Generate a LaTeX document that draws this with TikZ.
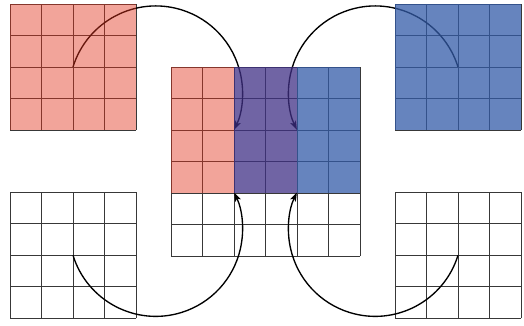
\documentclass[tikz,border=0pt]{standalone}
\usetikzlibrary{arrows.meta}
\definecolor{redbase}{RGB}{227,53,31}
\definecolor{bluebase}{RGB}{51,91,168}
\definecolor{purplebase}{RGB}{64,48,133}
\newcommand\drawcells[4]{%
  \foreach \i in {0,...,#3} \draw[gridline] (#1+\i*31.5,#2) -- ++(0,#4*31.5);
  \foreach \j in {0,...,#4} \draw[gridline] (#1,#2+\j*31.5) -- ++(#3*31.5,0);
}
\tikzset{
  gridline/.style={draw=black!78,line width=0.7pt},
  movearrow/.style={line width=1.35pt,-{Stealth[length=9pt,width=6pt,inset=2pt]}},
  redfill/.style={fill=redbase,fill opacity=0.45},
  bluefill/.style={fill=bluebase,fill opacity=0.75},
  purplefill/.style={fill=purplebase,fill opacity=0.75},
}
\begin{document}
\begin{tikzpicture}[x=1pt,y=1pt]
\useasboundingbox (0,0) rectangle (524,325);
% grids
\drawcells{10}{195}{4}{4}
\drawcells{395}{195}{4}{4}
\drawcells{171}{69}{6}{6}
\drawcells{10}{6.7}{4}{4}
\drawcells{395}{6.7}{4}{4}
% named points
\coordinate (tlc) at (73,258);
\coordinate (trc) at (458,258);
\coordinate (blc) at (73,69.7);
\coordinate (brc) at (458,69.7);
\coordinate (mta) at (234,195);
\coordinate (mtb) at (297,195);
\coordinate (mba) at (234,132);
\coordinate (mbb) at (297,132);
% arrows
\draw[movearrow] (tlc) arc[start angle=162.8,end angle=-25.5,radius=86.7pt];
\draw[movearrow] (trc) arc[start angle=17.2,end angle=205.5,radius=86.7pt];
\draw[movearrow] (blc) arc[start angle=-162.8,end angle=25.5,radius=86.7pt];
\draw[movearrow] (brc) arc[start angle=-17.2,end angle=-205.5,radius=86.7pt];
% translucent fills
\fill[redfill] (10,195) rectangle (136,321);
\fill[redfill] (171,132) rectangle (234,258);
\fill[purplefill] (234,132) rectangle (297,258);
\fill[bluefill] (297,132) rectangle (360,258);
\fill[bluefill] (395,195) rectangle (521,321);
\end{tikzpicture}
\end{document}
